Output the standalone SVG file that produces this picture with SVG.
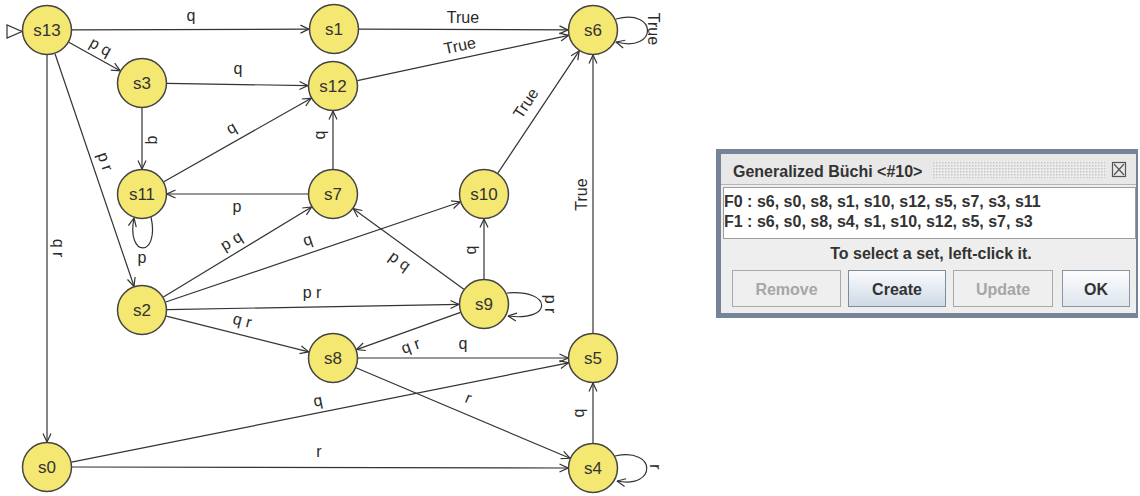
<svg xmlns="http://www.w3.org/2000/svg" width="1140" height="496" viewBox="0 0 1140 496">
  <defs>
    <marker id="arr" viewBox="0 0 10 10" refX="9.5" refY="5" markerWidth="10" markerHeight="10" markerUnits="userSpaceOnUse" orient="auto">
      <path d="M1,1 L9.5,5 L1,9" fill="none" stroke="#333" stroke-width="1.2"/>
    </marker>
    <pattern id="dots" width="3" height="3" patternUnits="userSpaceOnUse">
      <rect width="3" height="3" fill="#ececec"/>
      <rect width="1.5" height="1.5" fill="#c4c4c4"/>
    </pattern>
    <linearGradient id="btn" x1="0" y1="0" x2="0" y2="1">
      <stop offset="0" stop-color="#fbfcfe"/>
      <stop offset="1" stop-color="#cdd9e6"/>
    </linearGradient>
    <linearGradient id="btnok" x1="0" y1="0" x2="0" y2="1">
      <stop offset="0" stop-color="#fdfdfe"/>
      <stop offset="1" stop-color="#dde5ee"/>
    </linearGradient>
  </defs>
  <style>
    .node circle { fill: #f4e873; stroke: #444; stroke-width: 1.5; }
    .node text { font-family: "Liberation Sans", Arial, sans-serif; font-size: 17px; fill: #333; text-anchor: middle; }
    .edge { fill: none; stroke: #333; stroke-width: 1.2; marker-end: url(#arr); }
    .lbl { font-family: "Liberation Sans", Arial, sans-serif; font-size: 16px; fill: #2a2a2a; text-anchor: middle; }
    .dlg { font-family: "Liberation Sans", Arial, sans-serif; font-size: 16px; font-weight: bold; fill: #333; }
    .off { fill: #a6a6a6; }
  </style>
  <rect width="1140" height="496" fill="#ffffff"/>

  <!-- initial-state marker -->
  <polygon points="7,25 7,38 22,31.5" fill="#fff" stroke="#333" stroke-width="1.2"/>

  <g id="connectors">
    <line class="edge" x1="72" y1="29.9" x2="309" y2="29.1"/>
    <line class="edge" x1="68.8" y1="42.2" x2="120.2" y2="70.8"/>
    <line class="edge" x1="55" y1="53.7" x2="134" y2="286.3"/>
    <line class="edge" x1="47" y1="55" x2="47" y2="442"/>
    <line class="edge" x1="167" y1="83.4" x2="308" y2="85.6"/>
    <line class="edge" x1="142" y1="108" x2="142" y2="169"/>
    <line class="edge" x1="357.4" y1="80.7" x2="568.6" y2="35.3"/>
    <line class="edge" x1="359" y1="29.1" x2="568" y2="29.9"/>
    <path class="edge" d="M616,19 C658,8 658,53 616,42"/>
    <line class="edge" x1="333" y1="169" x2="333" y2="111"/>
    <line class="edge" x1="308" y1="194" x2="167" y2="194"/>
    <line class="edge" x1="163.8" y1="181.7" x2="311.2" y2="98.3"/>
    <path class="edge" d="M151,217 C160,258 126,258 134,218"/>
    <line class="edge" x1="163.4" y1="297" x2="311.6" y2="207"/>
    <line class="edge" x1="165.7" y1="302" x2="460.3" y2="202"/>
    <line class="edge" x1="167" y1="309.6" x2="459" y2="304.4"/>
    <line class="edge" x1="166.3" y1="316.1" x2="308.7" y2="351.9"/>
    <line class="edge" x1="463.8" y1="289.3" x2="353.2" y2="208.7"/>
    <line class="edge" x1="484" y1="279" x2="484" y2="219"/>
    <line class="edge" x1="460.5" y1="312.4" x2="356.5" y2="349.6"/>
    <path class="edge" d="M507,293 C553,289 553,322 508,316"/>
    <line class="edge" x1="358" y1="358" x2="568" y2="358"/>
    <line class="edge" x1="356" y1="367.7" x2="570" y2="458.3"/>
    <line class="edge" x1="71.5" y1="462.1" x2="568.5" y2="362.9"/>
    <line class="edge" x1="72" y1="467" x2="568" y2="468"/>
    <line class="edge" x1="593" y1="443" x2="593" y2="383"/>
    <path class="edge" d="M615,456 C657,447 657,489 617,481"/>
    <line class="edge" x1="593" y1="333" x2="593" y2="55"/>
    <line class="edge" x1="497.8" y1="173.2" x2="579.2" y2="50.8"/>

    <!-- edge labels -->
    <text class="lbl" x="191" y="21">q</text>
    <text class="lbl" transform="translate(100,48) rotate(29.2)" y="4">p q</text>
    <text class="lbl" transform="translate(104,162) rotate(71.3)" y="4">p r</text>
    <text class="lbl" transform="translate(57,248) rotate(90)" y="4">q r</text>
    <text class="lbl" x="238" y="74">q</text>
    <text class="lbl" transform="translate(152,140) rotate(90)" y="4">q</text>
    <text class="lbl" transform="translate(460,47) rotate(-12.2)" y="4">True</text>
    <text class="lbl" x="463" y="23">True</text>
    <text class="lbl" transform="translate(652,29) rotate(90)" y="4">True</text>
    <text class="lbl" transform="translate(321,135) rotate(-90)" y="4">q</text>
    <text class="lbl" x="237" y="211.5">p</text>
    <text class="lbl" transform="translate(232,129) rotate(-29.5)" y="4">q</text>
    <text class="lbl" x="142" y="263">p</text>
    <text class="lbl" transform="translate(232,242) rotate(-31.3)" y="4">p q</text>
    <text class="lbl" transform="translate(308,241) rotate(-18.7)" y="4">q</text>
    <text class="lbl" x="312" y="298">p r</text>
    <text class="lbl" transform="translate(242,322) rotate(14.1)" y="4">q r</text>
    <text class="lbl" transform="translate(399,262) rotate(36.1)" y="4">p q</text>
    <text class="lbl" transform="translate(472,250) rotate(-90)" y="4">q</text>
    <text class="lbl" transform="translate(411,347) rotate(-19.7)" y="4">q r</text>
    <text class="lbl" transform="translate(548.5,304) rotate(90)" y="4">p r</text>
    <text class="lbl" x="463" y="349">q</text>
    <text class="lbl" transform="translate(468,399) rotate(22.9)" y="4">r</text>
    <text class="lbl" transform="translate(318,402) rotate(-11.3)" y="4">q</text>
    <text class="lbl" x="319" y="457">r</text>
    <text class="lbl" transform="translate(580,413) rotate(-90)" y="4">q</text>
    <text class="lbl" transform="translate(654,467) rotate(90)" y="4">r</text>
    <text class="lbl" transform="translate(583,194.5) rotate(-90)" y="4">True</text>
    <text class="lbl" transform="translate(527,104) rotate(-56.4)" y="4">True</text>
  </g>

  <g id="s13" class="node"><circle cx="47" cy="30" r="24.5"/><text x="47" y="36">s13</text></g>
  <g id="s1" class="node"><circle cx="334" cy="29" r="24.5"/><text x="334" y="35">s1</text></g>
  <g id="s6" class="node"><circle cx="593" cy="30" r="24.5"/><text x="593" y="36">s6</text></g>
  <g id="s3" class="node"><circle cx="142" cy="83" r="24.5"/><text x="142" y="89">s3</text></g>
  <g id="s12" class="node"><circle cx="333" cy="86" r="24.5"/><text x="333" y="92">s12</text></g>
  <g id="s11" class="node"><circle cx="142" cy="194" r="24.5"/><text x="142" y="200">s11</text></g>
  <g id="s7" class="node"><circle cx="333" cy="194" r="24.5"/><text x="333" y="200">s7</text></g>
  <g id="s10" class="node"><circle cx="484" cy="194" r="24.5"/><text x="484" y="200">s10</text></g>
  <g id="s2" class="node"><circle cx="142" cy="310" r="24.5"/><text x="142" y="316">s2</text></g>
  <g id="s9" class="node"><circle cx="484" cy="304" r="24.5"/><text x="484" y="310">s9</text></g>
  <g id="s8" class="node"><circle cx="333" cy="358" r="24.5"/><text x="333" y="364">s8</text></g>
  <g id="s5" class="node"><circle cx="593" cy="358" r="24.5"/><text x="593" y="364">s5</text></g>
  <g id="s0" class="node"><circle cx="47" cy="467" r="24.5"/><text x="47" y="473">s0</text></g>
  <g id="s4" class="node"><circle cx="593" cy="468" r="24.5"/><text x="593" y="474">s4</text></g>

  <!-- acceptance-set dialog -->
  <g id="dialog">
    <rect x="716" y="149" width="422" height="169" fill="#76849a"/>
    <rect x="721" y="154" width="415" height="159" fill="#eeeeee"/>
    <rect x="721" y="154" width="415" height="30" fill="#e8e8e8"/>
    <line x1="721" y1="184.5" x2="1136" y2="184.5" stroke="#b5b5b5"/>
    <text class="dlg" x="733" y="177" fill="#3c3c3c">Generalized Büchi &lt;#10&gt;</text>
    <rect x="932" y="161" width="173" height="17" fill="url(#dots)"/>
    <g id="close-btn" fill="none" stroke="#555" stroke-width="1.2">
      <rect x="1112.5" y="162.5" width="13" height="14"/>
      <path d="M1114,164 L1124,175 M1124,164 L1114,175"/>
    </g>
    <rect x="723.5" y="187.5" width="412" height="51" fill="#ffffff" stroke="#9c9c9c"/>
    <text class="dlg" x="724" y="207">F0 : s6, s0, s8, s1, s10, s12, s5, s7, s3, s11</text>
    <text class="dlg" x="724" y="227">F1 : s6, s0, s8, s4, s1, s10, s12, s5, s7, s3</text>
    <text class="dlg" x="931" y="259" text-anchor="middle">To select a set, left-click it.</text>
    <g id="btn-remove">
      <rect x="732.5" y="270.5" width="108" height="36" fill="#efefef" stroke="#a9a9a9"/>
      <text class="dlg off" x="786.5" y="295" text-anchor="middle">Remove</text>
    </g>
    <g id="btn-create">
      <rect x="848.5" y="270.5" width="97" height="36" fill="url(#btn)" stroke="#7d8c9c"/>
      <text class="dlg" x="897" y="295" text-anchor="middle">Create</text>
    </g>
    <g id="btn-update">
      <rect x="953.5" y="270.5" width="99" height="36" fill="#efefef" stroke="#a9a9a9"/>
      <text class="dlg off" x="1003" y="295" text-anchor="middle">Update</text>
    </g>
    <g id="btn-ok">
      <rect x="1062.5" y="270.5" width="67" height="36" fill="url(#btnok)" stroke="#8a96a3"/>
      <text class="dlg" x="1096" y="295" text-anchor="middle">OK</text>
    </g>
  </g>
</svg>
